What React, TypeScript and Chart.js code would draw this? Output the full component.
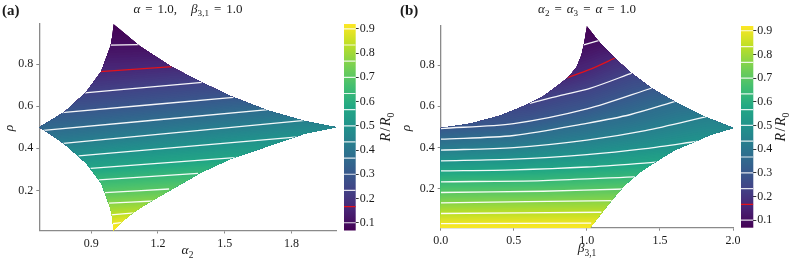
import React, { useEffect, useRef } from "react";
import { Chart, registerables } from "chart.js";

Chart.register(...registerables);

type Pt = [number, number];

// ---------- shared values ----------
const RHO_RANGE: Pt = [0.01, 0.99];
const RHO_TICKS = [0.2, 0.4, 0.6, 0.8];
const CB_RANGE: Pt = [0.068, 0.92];
const CB_TICKS = [0.1, 0.2, 0.3, 0.4, 0.5, 0.6, 0.7, 0.8, 0.9];
const LEVELS = [0.1, 0.1667, 0.2333, 0.3, 0.3667, 0.4333, 0.5, 0.5667, 0.6333, 0.7, 0.7667, 0.8333, 0.9];
const RED_LEVEL = 0.1667;

// ---------- panel (a): alpha = 1.0, beta31 = 1.0 ----------
const A_X_RANGE: Pt = [0.6667, 2.0];
const A_X_TICKS = [0.9, 1.2, 1.5, 1.8];
const A_BOUNDARY: Pt[] = [
  [1.0, 0.99], [1.117, 0.886], [1.26, 0.787], [1.395, 0.713], [1.53, 0.646], [1.693, 0.58], [1.86, 0.529], [2.0, 0.5],
  [1.86, 0.47], [1.693, 0.41], [1.53, 0.352], [1.395, 0.287], [1.26, 0.205], [1.155, 0.14], [1.087, 0.094], [1.03, 0.045], [1.0, 0.01],
  [0.996, 0.06], [0.987, 0.114], [0.945, 0.235], [0.877, 0.33], [0.78, 0.42], [0.712, 0.47], [0.667, 0.5],
  [0.712, 0.528], [0.78, 0.572], [0.877, 0.666], [0.945, 0.765], [0.987, 0.886], [0.996, 0.94],
];
const A_CONTOURS: Pt[][] = [
  [[0.985, 0.89], [1.112, 0.892]],
  [[0.94, 0.764], [1.265, 0.788]],
  [[0.87, 0.663], [1.4, 0.713]],
  [[0.768, 0.569], [1.54, 0.642]],
  [[0.686, 0.485], [1.695, 0.584]],
  [[0.775, 0.423], [1.86, 0.533]],
  [[0.843, 0.364], [1.83, 0.454]],
  [[0.897, 0.305], [1.56, 0.357]],
  [[0.934, 0.25], [1.38, 0.281]],
  [[0.962, 0.19], [1.25, 0.207]],
  [[0.98, 0.14], [1.18, 0.15]],
  [[0.988, 0.084], [1.095, 0.094]],
  [[0.995, 0.042], [1.04, 0.049]],
];

// ---------- panel (b): alpha2 = alpha3 = alpha = 1.0 ----------
const B_X_RANGE: Pt = [0, 2];
const B_X_TICKS = [0, 0.5, 1, 1.5, 2];
const B_BOUNDARY: Pt[] = [
  [0, 0.01], [0, 0.495],
  [0.2, 0.515], [0.4, 0.553], [0.55, 0.595], [0.7, 0.648], [0.8, 0.7], [0.872, 0.74], [0.93, 0.79], [0.964, 0.849], [0.985, 0.92], [1.0, 0.99],
  [1.077, 0.918], [1.191, 0.833], [1.306, 0.76], [1.442, 0.687], [1.601, 0.622], [1.807, 0.549], [2.0, 0.495],
  [1.841, 0.46], [1.738, 0.427], [1.601, 0.387], [1.487, 0.338], [1.362, 0.28], [1.26, 0.217], [1.171, 0.144], [1.089, 0.071], [1.021, 0.01],
];
const B_CONTOURS: Pt[][] = [
  [[0.955, 0.893], [1.085, 0.92]],
  [[0.86, 0.737], [1.021, 0.779], [1.2, 0.837]],
  [[0.61, 0.614], [0.815, 0.652], [1.021, 0.687], [1.315, 0.763]],
  [[0, 0.492], [0.5, 0.516], [1.0, 0.587], [1.45, 0.69]],
  [[0, 0.44], [0.5, 0.458], [1.0, 0.517], [1.3, 0.56], [1.61, 0.625]],
  [[0, 0.387], [0.5, 0.399], [1.0, 0.436], [1.4, 0.482], [1.82, 0.55]],
  [[0, 0.335], [0.5, 0.343], [1.0, 0.365], [1.4, 0.394], [1.76, 0.43]],
  [[0, 0.286], [0.5, 0.291], [1.0, 0.305], [1.5, 0.33]],
  [[0, 0.233], [0.7, 0.239], [1.36, 0.258]],
  [[0, 0.181], [0.7, 0.187], [1.26, 0.198]],
  [[0, 0.131], [1.18, 0.142]],
  [[0, 0.079], [1.1, 0.085]],
  [[0, 0.03], [1.03, 0.032]],
];

// ---------- styling ----------
const FONT = '"Liberation Serif", "DejaVu Serif", serif';
const TEXT = "#1a1a1a";
const AXIS_GRAY = "#8a8a8a";
const WHITE_LINE = "rgba(255,255,255,0.95)";
const RED_LINE = "#e3121b";
const TICK_SIZE = 12;

const VIRIDIS = ["#440154", "#482475", "#414487", "#355f8d", "#2a788e", "#21918c", "#22a884", "#44bf70", "#7ad151", "#bddf26", "#fde725"];
const VIR_RGB = VIRIDIS.map((h) => {
  const n = parseInt(h.slice(1), 16);
  return [(n >> 16) & 255, (n >> 8) & 255, n & 255];
});
function viridis(t: number): string {
  t = Math.min(1, Math.max(0, t));
  const f = t * (VIR_RGB.length - 1);
  const i = Math.min(VIR_RGB.length - 2, Math.floor(f));
  const u = f - i;
  const a = VIR_RGB[i], b = VIR_RGB[i + 1];
  const c = [0, 1, 2].map((k) => Math.round(a[k] + (b[k] - a[k]) * u));
  return `rgb(${c[0]},${c[1]},${c[2]})`;
}
const norm = (v: number) => (v - CB_RANGE[0]) / (CB_RANGE[1] - CB_RANGE[0]);

type Seg = { t?: string; it?: boolean; b?: boolean; sub?: boolean; gap?: number };
type TextItem = { segs: Seg[]; x: number; y: number; size: number; align?: "left" | "center"; rot?: number };

function drawRich(ctx: CanvasRenderingContext2D, item: TextItem) {
  const { segs, size } = item;
  const fontFor = (s: Seg) => `${s.it ? "italic " : ""}${s.b ? "bold " : ""}${s.sub ? size * 0.7 : size}px ${FONT}`;
  let total = 0;
  const widths = segs.map((s) => {
    if (s.gap !== undefined) { total += s.gap; return s.gap; }
    ctx.font = fontFor(s);
    const w = ctx.measureText(s.t || "").width;
    total += w;
    return w;
  });
  ctx.save();
  ctx.translate(item.x, item.y);
  if (item.rot) ctx.rotate(item.rot);
  let cx = item.align === "left" ? 0 : -total / 2;
  ctx.fillStyle = TEXT;
  ctx.textAlign = "left";
  ctx.textBaseline = "alphabetic";
  segs.forEach((s, i) => {
    if (s.gap === undefined) {
      ctx.font = fontFor(s);
      ctx.fillText(s.t || "", cx, s.sub ? size * 0.27 : 0);
    }
    cx += widths[i];
  });
  ctx.restore();
}

function textPlugin(texts: TextItem[]) {
  return {
    id: "texts",
    afterDraw(chart: any) {
      texts.forEach((t) => drawRich(chart.ctx, t));
    },
  };
}

function interpY(pts: number[][], X: number): number {
  if (X <= pts[0][0]) return pts[0][1];
  const last = pts[pts.length - 1];
  if (X >= last[0]) return last[1];
  for (let i = 0; i < pts.length - 1; i++) {
    const a = pts[i], b = pts[i + 1];
    if (X >= a[0] && X <= b[0]) {
      const u = (X - a[0]) / (b[0] - a[0] || 1);
      return a[1] + (b[1] - a[1]) * u;
    }
  }
  return last[1];
}

function fieldPlugin(boundary: Pt[], contours: Pt[][], levels: number[]) {
  return {
    id: "field",
    beforeDatasetsDraw(chart: any) {
      const { ctx, chartArea: ca } = chart;
      const sx = chart.scales.x, sy = chart.scales.y;
      const P = (p: Pt) => [sx.getPixelForValue(p[0]), sy.getPixelForValue(p[1])];
      const region = () => {
        ctx.beginPath();
        boundary.forEach((p, i) => {
          const [X, Y] = P(p);
          if (i === 0) ctx.moveTo(X, Y); else ctx.lineTo(X, Y);
        });
        ctx.closePath();
      };
      ctx.save();
      region();
      ctx.clip();
      const x0 = ca.left - 6, x1 = ca.right + 6;
      const xs: number[] = [];
      for (let X = x0; X <= x1; X += 2) xs.push(X);
      const curves: number[][] = [
        xs.map(() => ca.top - 2),
        ...contours.map((c) => {
          const pts = c.map(P);
          return xs.map((X) => interpY(pts, X));
        }),
        xs.map(() => ca.bottom + 2),
      ];
      const vals = [CB_RANGE[0], ...levels, CB_RANGE[1]];
      const N = 10;
      for (let i = 0; i < curves.length - 1; i++) {
        for (let k = 0; k < N; k++) {
          const t = k / N;
          const v = vals[i] + (vals[i + 1] - vals[i]) * ((k + 0.5) / N);
          ctx.fillStyle = viridis(norm(v));
          ctx.beginPath();
          xs.forEach((X, j) => {
            const Y = curves[i][j] * (1 - t) + curves[i + 1][j] * t;
            if (j === 0) ctx.moveTo(X, Y); else ctx.lineTo(X, Y);
          });
          ctx.lineTo(x1, ca.bottom + 20);
          ctx.lineTo(x0, ca.bottom + 20);
          ctx.closePath();
          ctx.fill();
        }
      }
      ctx.restore();
      ctx.save();
      region();
      ctx.clip();
    },
    afterDatasetsDraw(chart: any) {
      chart.ctx.restore();
    },
  };
}

function axisOpts(range: Pt, ticks: number[], kind: "x" | "y", size: number) {
  return {
    type: "linear" as const,
    min: range[0],
    max: range[1],
    afterBuildTicks: (s: any) => { s.ticks = ticks.map((v) => ({ value: v })); },
    afterFit: (s: any) => { if (kind === "x") s.height = size; else s.width = size; },
    grid: { drawOnChartArea: false, drawTicks: true, tickLength: 3, tickWidth: 1, tickColor: AXIS_GRAY, color: AXIS_GRAY },
    border: { display: true, color: AXIS_GRAY, width: 1.3 },
    ticks: {
      font: { family: FONT, size: TICK_SIZE },
      color: TEXT,
      padding: kind === "x" ? 3 : 3,
      maxRotation: 0,
      autoSkip: false,
      callback: (v: any) => Number(v).toFixed(1),
    },
  };
}

type MainCfg = {
  boundary: Pt[]; contours: Pt[][]; xRange: Pt; xTicks: number[];
  padTop: number; padRight: number; yAxisW: number; xAxisH: number; texts: TextItem[];
};

function makeMain(canvas: HTMLCanvasElement, cfg: MainCfg) {
  const datasets = cfg.contours.map((c, i) => ({
    data: c.map((p) => ({ x: p[0], y: p[1] })),
    showLine: true,
    pointRadius: 0,
    borderWidth: 1.3,
    borderColor: LEVELS[i] === RED_LEVEL ? RED_LINE : WHITE_LINE,
    tension: 0.3,
  }));
  return new Chart(canvas, {
    type: "scatter",
    data: { datasets },
    options: {
      animation: false,
      responsive: false,
      devicePixelRatio: 1,
      events: [],
      layout: { padding: { top: cfg.padTop, right: cfg.padRight, left: 0, bottom: 0 } },
      plugins: { legend: { display: false }, tooltip: { enabled: false } },
      scales: {
        x: axisOpts(cfg.xRange, cfg.xTicks, "x", cfg.xAxisH),
        y: axisOpts(RHO_RANGE, RHO_TICKS, "y", cfg.yAxisW),
      },
    } as any,
    plugins: [fieldPlugin(cfg.boundary, cfg.contours, LEVELS), textPlugin(cfg.texts)],
  });
}

type BarCfg = { width: number; barW: number; padTop: number; padBottom: number; texts: TextItem[] };

function makeBar(canvas: HTMLCanvasElement, cfg: BarCfg) {
  const datasets = LEVELS.map((L) => ({
    data: [{ x: 0, y: L }, { x: 1, y: L }],
    showLine: true,
    pointRadius: 0,
    borderWidth: 1.2,
    borderColor: L === RED_LEVEL ? RED_LINE : "rgba(255,255,255,0.85)",
  }));
  const gradPlugin = {
    id: "cbar",
    beforeDatasetsDraw(chart: any) {
      const { ctx, chartArea: ca } = chart;
      const sy = chart.scales.y;
      const yTop = sy.getPixelForValue(CB_RANGE[1]);
      const yBot = sy.getPixelForValue(CB_RANGE[0]);
      const g = ctx.createLinearGradient(0, yTop, 0, yBot);
      for (let s = 0; s <= 20; s++) g.addColorStop(s / 20, viridis(1 - s / 20));
      ctx.save();
      ctx.fillStyle = g;
      ctx.fillRect(ca.left, yTop, ca.right - ca.left, yBot - yTop);
      ctx.restore();
    },
  };
  return new Chart(canvas, {
    type: "scatter",
    data: { datasets },
    options: {
      animation: false,
      responsive: false,
      devicePixelRatio: 1,
      events: [],
      layout: { padding: { top: cfg.padTop, bottom: cfg.padBottom, left: 0, right: 0 } },
      plugins: { legend: { display: false }, tooltip: { enabled: false } },
      scales: {
        x: { type: "linear", min: 0, max: 1, display: false },
        y: {
          type: "linear",
          position: "right",
          min: CB_RANGE[0],
          max: CB_RANGE[1],
          afterBuildTicks: (s: any) => { s.ticks = CB_TICKS.map((v) => ({ value: v })); },
          afterFit: (s: any) => { s.width = cfg.width - cfg.barW; },
          grid: { drawOnChartArea: false, drawTicks: true, tickLength: 3, tickWidth: 1, tickColor: "#333333" },
          border: { display: false },
          ticks: {
            font: { family: FONT, size: TICK_SIZE },
            color: TEXT,
            padding: 1,
            autoSkip: false,
            callback: (v: any) => Number(v).toFixed(1),
          },
        },
      },
    } as any,
    plugins: [gradPlugin, textPlugin(cfg.texts)],
  });
}

const cbLabel = (x: number): TextItem => ({
  segs: [{ t: "R", it: true }, { gap: 1.5 }, { t: "/" }, { gap: 1.5 }, { t: "R", it: true }, { t: "0", sub: true }],
  x, y: 127, size: 14, rot: -Math.PI / 2,
});

export default function App() {
  const aMain = useRef<HTMLCanvasElement>(null);
  const aBar = useRef<HTMLCanvasElement>(null);
  const bMain = useRef<HTMLCanvasElement>(null);
  const bBar = useRef<HTMLCanvasElement>(null);

  useEffect(() => {
    const charts: Chart[] = [];
    charts.push(makeMain(aMain.current!, {
      boundary: A_BOUNDARY, contours: A_CONTOURS, xRange: A_X_RANGE, xTicks: A_X_TICKS,
      padTop: 24, padRight: 9, yAxisW: 39.3, xAxisH: 32.5,
      texts: [
        { segs: [{ t: "(a)", b: true }], x: 2, y: 15, size: 15, align: "left" },
        { segs: [{ t: "α", it: true }, { gap: 5 }, { t: "=" }, { gap: 5 }, { t: "1.0," }, { gap: 14 }, { t: "β", it: true }, { t: "3,1", sub: true }, { gap: 5 }, { t: "=" }, { gap: 5 }, { t: "1.0" }], x: 188, y: 12.5, size: 13 },
        { segs: [{ t: "α", it: true }, { t: "2", sub: true }], x: 187.5, y: 254, size: 13.5 },
        { segs: [{ t: "ρ", it: true }], x: 13, y: 128, size: 13.5, rot: -Math.PI / 2 },
      ],
    }));
    charts.push(makeBar(aBar.current!, {
      width: 50, barW: 11.7, padTop: 24, padBottom: 32.5, texts: [cbLabel(46)],
    }));
    charts.push(makeMain(bMain.current!, {
      boundary: B_BOUNDARY, contours: B_CONTOURS, xRange: B_X_RANGE, xTicks: B_X_TICKS,
      padTop: 26, padRight: 12, yAxisW: 45.7, xAxisH: 35.3,
      texts: [
        { segs: [{ t: "(b)", b: true }], x: 5, y: 15, size: 15, align: "left" },
        { segs: [{ t: "α", it: true }, { t: "2", sub: true }, { gap: 5 }, { t: "=" }, { gap: 5 }, { t: "α", it: true }, { t: "3", sub: true }, { gap: 5 }, { t: "=" }, { gap: 5 }, { t: "α", it: true }, { gap: 5 }, { t: "=" }, { gap: 5 }, { t: "1.0" }], x: 192, y: 12.5, size: 13 },
        { segs: [{ t: "β", it: true }, { t: "3,1", sub: true }], x: 192, y: 252, size: 13.5 },
        { segs: [{ t: "ρ", it: true }], x: 15, y: 128, size: 13.5, rot: -Math.PI / 2 },
      ],
    }));
    charts.push(makeBar(bBar.current!, {
      width: 48, barW: 12.3, padTop: 26, padBottom: 35.3, texts: [cbLabel(44)],
    }));
    return () => charts.forEach((c) => c.destroy());
  }, []);

  const abs = (left: number): React.CSSProperties => ({ position: "absolute", left, top: 0 });
  return (
    <div style={{ position: "fixed", left: 0, top: 0, width: 789, height: 263, background: "#ffffff", overflow: "hidden" }}>
      <canvas ref={aMain} width={345} height={263} style={abs(0)} />
      <canvas ref={bMain} width={350} height={263} style={abs(395)} />
      <canvas ref={aBar} width={50} height={263} style={abs(344)} />
      <canvas ref={bBar} width={48} height={263} style={abs(741)} />
    </div>
  );
}
